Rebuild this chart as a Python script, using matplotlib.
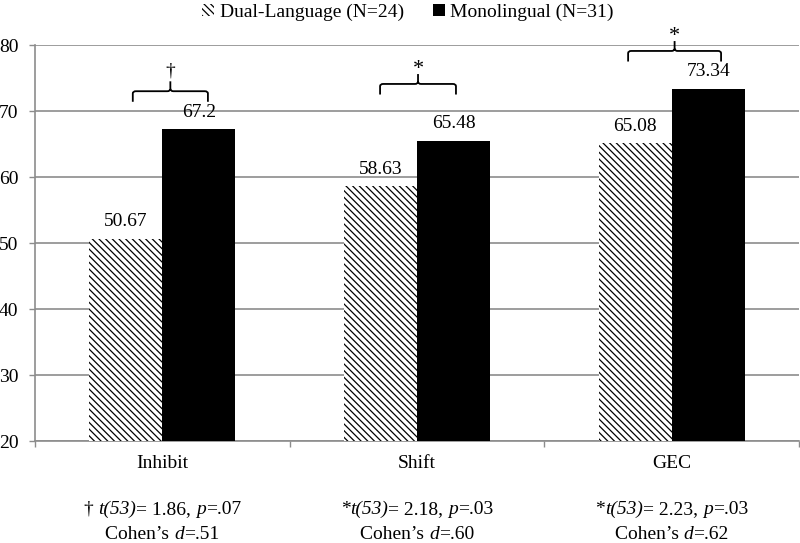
import numpy as np
import matplotlib
matplotlib.use("Agg")
import matplotlib.pyplot as plt
from matplotlib.path import Path
from matplotlib.patches import Patch, PathPatch
from matplotlib.transforms import blended_transform_factory
from matplotlib.offsetbox import TextArea, HPacker, AnnotationBbox

plt.rcParams['font.family'] = ['Liberation Serif', 'DejaVu Serif']
plt.rcParams['hatch.linewidth'] = 0.9

# data
categories = ['Inhibit', 'Shift', 'GEC']
dual = [50.67, 58.63, 65.08]
mono = [67.2, 65.48, 73.34]
dual_labels = ['50.67', '58.63', '65.08']
mono_labels = ['67.2', '65.48', '73.34']
series_names = ['Dual-Language (N=24)', 'Monolingual (N=31)']
sig_marks = ['\u2020', '*', '*']
# (text, italic) pieces of the two lines under each category
stats_line1 = [[('\u2020 ', False), ('t(53)', True), ('= 1.86, ', False), ('p', True), ('=.07', False)],
               [('*', False), ('t(53)', True), ('= 2.18, ', False), ('p', True), ('=.03', False)],
               [('*', False), ('t(53)', True), ('= 2.23, ', False), ('p', True), ('=.03', False)]]
stats_line2 = [[('Cohen\u2019s ', False), ('d', True), ('=.51', False)],
               [('Cohen\u2019s ', False), ('d', True), ('=.60', False)],
               [('Cohen\u2019s ', False), ('d', True), ('=.62', False)]]
# bracket placement (x offsets from category centre, y levels)
br_left = [-0.116, -0.145, -0.171]
br_right = [0.179, 0.153, 0.194]
br_top = [73.0, 74.1, 79.1]

grey = '#8c8c8c'
x = np.arange(len(categories))
w = 0.287
hatch = '\\\\\\\\\\'

fig = plt.figure(figsize=(8, 5.43), dpi=100)
ax = fig.add_axes([0.04375, 0.1878, 0.955, 0.7293])

ax.bar(x - w / 2, dual, w, facecolor='white', edgecolor='black',
       linewidth=0, hatch=hatch, zorder=3)
ax.bar(x + w / 2, mono, w, color='black', linewidth=0, zorder=3)

for i in range(len(categories)):
    ax.annotate(dual_labels[i], (x[i] - w / 2, dual[i]), xytext=(0, 9),
                textcoords='offset points', ha='center', va='baseline', fontsize=14)
    ax.annotate(mono_labels[i], (x[i] + w / 2, mono[i]), xytext=(0, 9),
                textcoords='offset points', ha='center', va='baseline', fontsize=14)

ax.set_xlim(-0.5, 2.5)
ax.set_ylim(20, 80)
ax.set_yticks(np.arange(20, 81, 10))
ax.set_xticks(x)
ax.set_xticklabels(categories)
ax.set_xticks([-0.5, 0.5, 1.5, 2.5], minor=True)
ax.tick_params(axis='x', which='major', length=0, pad=10, labelsize=14)
ax.tick_params(axis='x', which='minor', length=4, color=grey, width=1)
ax.tick_params(axis='y', length=4, color=grey, width=1, pad=8, labelsize=14)
ax.yaxis.grid(True, color=grey, linewidth=1.2, zorder=0)
ax.set_axisbelow(True)
for s in ['top', 'right']:
    ax.spines[s].set_visible(False)
for s in ['left', 'bottom']:
    ax.spines[s].set_color(grey)
    ax.spines[s].set_linewidth(1.2)

# significance brackets
for i in range(len(categories)):
    x0 = x[i] + br_left[i]
    x1 = x[i] + br_right[i]
    xm = (x0 + x1) / 2
    yt = br_top[i]
    yb = yt - 1.6
    yp = yt + 1.5
    rx, ry = 0.012, 0.35
    verts = [(x0, yb), (x0, yt - ry), (x0, yt), (x0 + rx, yt),
             (xm - rx, yt), (xm, yt), (xm, yt + ry), (xm, yp),
             (xm, yt + ry), (xm, yt), (xm + rx, yt),
             (x1 - rx, yt), (x1, yt), (x1, yt - ry), (x1, yb)]
    codes = [Path.MOVETO, Path.LINETO, Path.CURVE3, Path.CURVE3,
             Path.LINETO, Path.CURVE3, Path.CURVE3, Path.LINETO,
             Path.MOVETO, Path.CURVE3, Path.CURVE3,
             Path.LINETO, Path.CURVE3, Path.CURVE3, Path.LINETO]
    ax.add_patch(PathPatch(Path(verts, codes), fill=False, edgecolor='black',
                           linewidth=1.3, clip_on=False, zorder=4))
    if sig_marks[i] == '*':
        ax.annotate('*', (xm, yp), xytext=(0, 0), textcoords='offset points',
                    ha='center', va='baseline', fontsize=16, annotation_clip=False)
    else:
        ax.annotate(sig_marks[i], (xm, yp), xytext=(0, 4), textcoords='offset points',
                    ha='center', va='baseline', fontsize=14, annotation_clip=False)

# statistics below the axis
trans = blended_transform_factory(ax.transData, ax.transAxes)


def stat_line(pieces, xpos, ypos):
    parts = [TextArea(t, textprops=dict(fontsize=14, fontstyle='italic' if it else 'normal'))
             for t, it in pieces]
    box = HPacker(children=parts, align='baseline', pad=0, sep=0)
    ab = AnnotationBbox(box, (xpos, ypos), xycoords=trans, frameon=False,
                        box_alignment=(0.5, 0.5), annotation_clip=False, pad=0)
    ax.add_artist(ab)


for i in range(len(categories)):
    stat_line(stats_line1[i], x[i], -0.172)
    stat_line(stats_line2[i], x[i], -0.237)

handles = [Patch(facecolor='white', edgecolor='black', linewidth=0, hatch=hatch),
           Patch(facecolor='black', edgecolor='black', linewidth=0)]
fig.legend(handles, series_names, loc='upper center', bbox_to_anchor=(0.51, 1.025),
           ncol=2, frameon=False, fontsize=14, handlelength=0.6, handleheight=0.6,
           handletextpad=0.3, columnspacing=1.5)

fig.savefig('out.png', dpi=100)
